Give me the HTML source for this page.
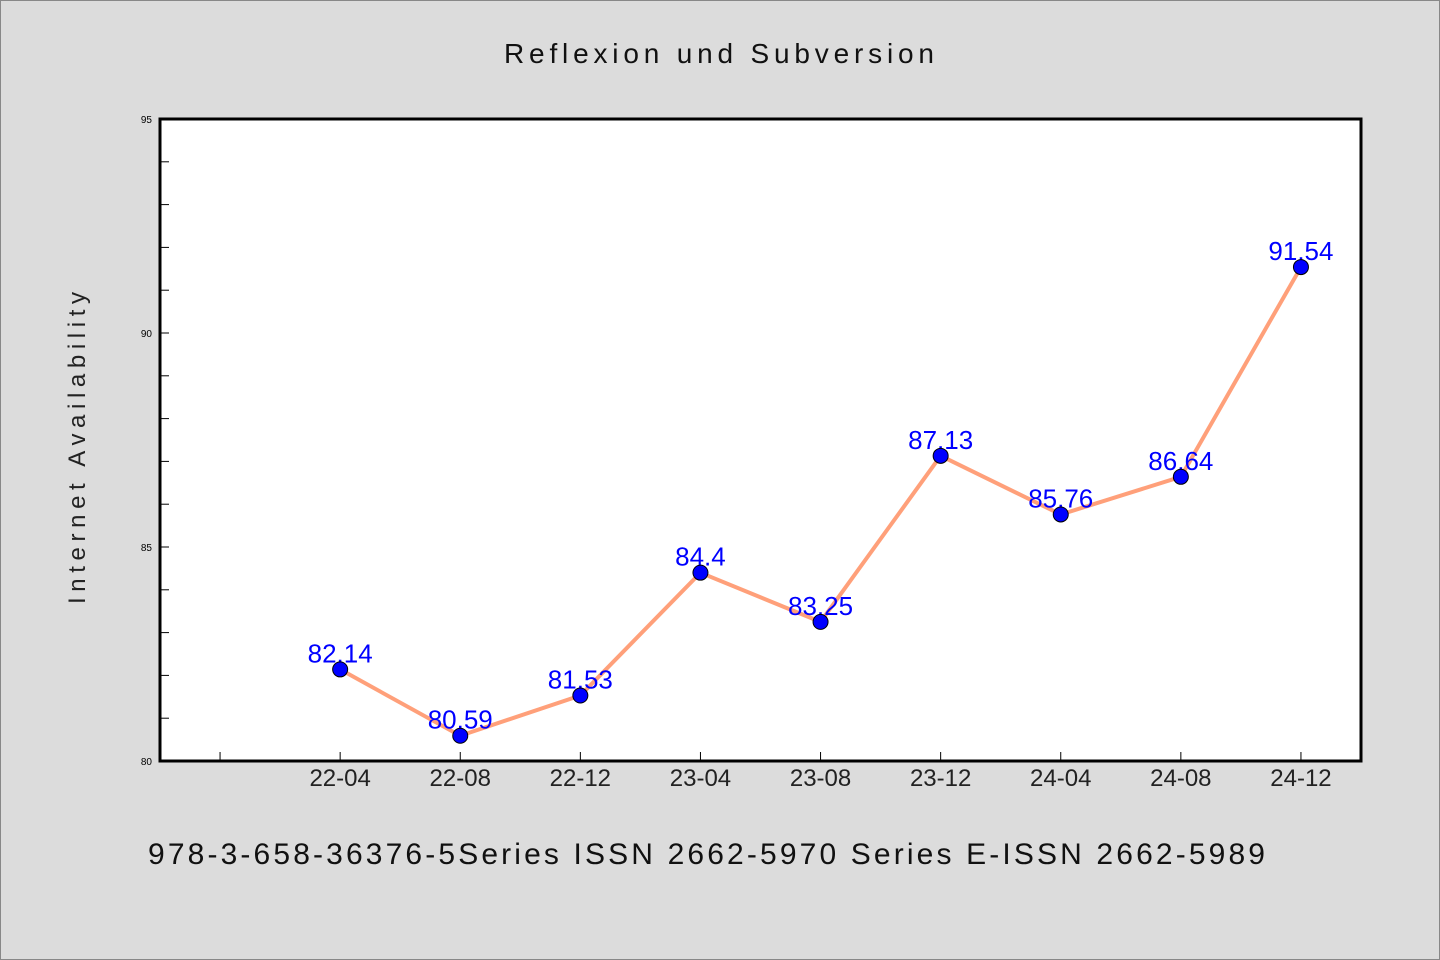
<!DOCTYPE html>
<html><head><meta charset="utf-8"><style>
body{margin:0;background:#dcdcdc}
svg{display:block}
text{font-family:"WenQuanYi Zen Hei","Liberation Sans",sans-serif}
</style></head><body>
<svg id="chart" width="1440" height="960">
<rect x="0.5" y="0.5" width="1439" height="959" fill="#dcdcdc" stroke="#888"/>
<text x="719" y="63" text-anchor="middle" font-size="28" fill="#111" textLength="430">Reflexion und Subversion</text>
<rect x="160" y="119" width="1201" height="642" fill="#fff" stroke="#000" stroke-width="3"/>
<text transform="translate(85,448) rotate(-90)" text-anchor="middle" font-size="24" fill="#222" textLength="312">Internet Availability</text>
<text x="148" y="864" font-size="30" fill="#111" textLength="1117">978-3-658-36376-5Series ISSN 2662-5970 Series E-ISSN 2662-5989</text>
<g id="axes"></g><g id="series"></g>
</svg>
<script>
const categories=["22-04","22-08","22-12","23-04","23-08","23-12","24-04","24-08","24-12"];
const values=[82.14,80.59,81.53,84.4,83.25,87.13,85.76,86.64,91.54];
const yTicks=[80,85,90,95];
const NS="http://www.w3.org/2000/svg";
const X0=160,X1=1361,Y0=761,Y1=119,YMIN=80,YMAX=95;
const step=(X1-X0)/(categories.length+1);
function x(i){return X0+step*(i+1.5);}
function y(v){return Y0-(v-YMIN)/(YMAX-YMIN)*(Y0-Y1);}
function mk(t,a,p){const e=document.createElementNS(NS,t);for(const k in a)e.setAttribute(k,a[k]);p.appendChild(e);return e;}
const ax=document.getElementById('axes'),se=document.getElementById('series');
for(let v=YMIN;v<=YMAX;v++){
 const l=mk('line',{x1:160,x2:169,y1:y(v),y2:y(v),stroke:'#000','stroke-width':1},ax);
 
 
}
yTicks.forEach(v=>{
 const t=mk('text',{x:152,y:y(v)+4,'text-anchor':'end','font-size':10,fill:'#000'},ax);t.textContent=v;
 
 
});
for(let i=-1;i<categories.length;i++){
 const l=mk('line',{x1:x(i),x2:x(i),y1:752,y2:761,stroke:'#000','stroke-width':1},ax);
 
 
}
categories.forEach((c,i)=>{
 const t=mk('text',{x:x(i),y:786,'text-anchor':'middle','font-size':24,fill:'#222'},ax);t.textContent=c;
 
 
});
const pl=mk('polyline',{points:values.map((v,i)=>x(i)+','+y(v)).join(' '),fill:'none',stroke:'#ffa07a','stroke-width':4},se);


values.forEach((v,i)=>{
 const t=mk('text',{x:x(i),y:y(v)-7,'text-anchor':'middle','font-size':26,fill:'#0000ff','font-family':'Liberation Sans, sans-serif'},se);t.textContent=v;
 
 
});
values.forEach((v,i)=>{
 const c=mk('circle',{cx:x(i),cy:y(v),r:7.5,fill:'#0000ff',stroke:'#000','stroke-width':1},se);
 
 
});
</script>
</body></html>
